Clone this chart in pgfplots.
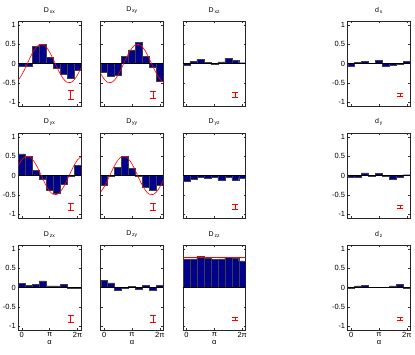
\documentclass[border=0pt]{standalone}
\usepackage{pgfplots}
\pgfplotsset{compat=1.18}
\usepackage{pgfplotstable}
\usepackage{fontspec}
\setmainfont{Liberation Sans}

\definecolor{navy}{rgb}{0,0,0.55}

% bar heights, one column per panel
\pgfplotstableread{
a      Dxx   Dxy   Dxz   dx    Dyx   Dyy   Dyz   dy    Dzx   Dzy   Dzz   dz
0      -0.08 -0.22 -0.04 -0.06 0.56  -0.25 -0.14 -0.05 0.11  0.18  0.74  -0.03
0.7854 -0.08 -0.34 0.06  0.03  0.50  -0.02 -0.09 -0.05 0.06  0.12  0.74  0.04
1.5708 0.44  -0.30 0.11  0.05  0.13  0.22  -0.04 0.07  0.08  -0.08 0.81  0.06
2.3562 0.50  0.18  0.03  0.01  -0.10 0.50  -0.07 -0.02 0.17  -0.01 0.76  0.00
3.1416 0.16  0.35  -0.03 0.09  -0.37 0.19  -0.04 0.06  0.04  0.03  0.73  0.00
3.9270 -0.13 0.54  0.04  -0.08 -0.46 -0.02 -0.11 -0.03 0.04  -0.04 0.74  0.00
4.7124 -0.28 0.18  0.13  -0.04 -0.23 -0.30 -0.04 -0.10 0.09  0.06  0.78  0.04
5.4978 -0.39 -0.09 0.09  -0.01 -0.02 -0.38 -0.11 -0.05 -0.03 -0.08 0.76  0.08
6.2832 -0.17 -0.47 0.02  0.06  0.26  -0.25 -0.07 0.02  -0.01 0.06  0.69  -0.01
}\bars

% model curves (red)
\pgfplotstableread{
a       cxx     cxy     cyx
-0.3927 -0.4266 -0.2609 0.2609
0       -0.2943 -0.4043 0.4043
0.3927  -0.1172 -0.4861 0.4861
0.7854  0.0779  -0.4939 0.4939
1.1781  0.2607  -0.4267 0.4267
1.5708  0.4043  -0.2943 0.2943
1.9635  0.4861  -0.1172 0.1172
2.3562  0.4939  0.0778  -0.0778
2.7489  0.4266  0.2609  -0.2609
3.1416  0.2943  0.4043  -0.4043
3.5343  0.1172  0.4861  -0.4861
3.9270  -0.0779 0.4939  -0.4939
4.3197  -0.2607 0.4267  -0.4267
4.7124  -0.4043 0.2943  -0.2943
5.1051  -0.4861 0.1172  -0.1172
5.4978  -0.4939 -0.0778 0.0778
5.8905  -0.4266 -0.2609 0.2609
6.2832  -0.2943 -0.4043 0.4043
6.6759  -0.1172 -0.4861 0.4861
}\curves

\pgfplotsset{
  panel/.style={
    scale only axis, width=62.7pt, height=85pt, anchor=north west,
    xmin=-0.3927, xmax=6.6759, ymin=-1.1, ymax=1.1,
    xtick={0,3.14159,6.28319}, xticklabels={0,π,2π}, minor x tick num=3,
    ytick={-1,-0.5,0,0.5,1}, yticklabels={},
    tick align=inside, major tick length=2pt, minor tick length=1.5pt,
    tick style={black!80, line width=0.4pt},
    axis line style={black!85, line width=0.7pt},
    ticklabel style={font=\fontsize{7.5}{8}\selectfont},
    title style={font=\fontsize{7}{8}\selectfont, yshift=-2pt},
    xlabel style={font=\fontsize{7.5}{8}\selectfont, yshift=4pt},
    yticklabel style={xshift=1pt},
    xticklabel style={yshift=1pt},
  },
  ylab/.style={yticklabels={-1,-0.5,0,0.5,1}},
  nox/.style={xticklabels={}},
  bars/.style={ybar, bar width=0.7854, fill=navy, draw=black!75, line width=0.35pt},
  errb/.style={red, only marks, mark=*, mark size=0pt,
    error bars/.cd, y dir=both, y explicit,
    error bar style={red, solid, line width=0.7pt},
    error mark=|, error mark options={red, solid, mark size=3pt, line width=0.7pt}},
}

% #1 left, #2 top, #3 title, #4 bar column, #5 error, #6 options, #7 extra plots
\newcommand\panel[7]{%
\begin{axis}[panel, at={(#1pt,-#2pt)}, title={#3}, #6]
\addplot[bars] table[x=a, y=#4] {\bars};
\addplot[black, line width=0.5pt] coordinates {(-0.3927,0) (6.6759,0)};
#7
\addplot[errb] coordinates {(5.5,-0.81) +- (0,#5)};
\end{axis}}

\begin{document}
\begin{tikzpicture}
\useasboundingbox (0,0) rectangle (415pt,-354pt);

\panel{18.3}{21}{D\textsubscript{\,xx}}{Dxx}{0.11}{ylab, nox}
  {\addplot[red, line width=0.6pt, smooth] table[x=a, y=cxx] {\curves};}
\panel{100.7}{21}{D\textsubscript{\,xy}}{Dxy}{0.09}{nox}
  {\addplot[red, line width=0.6pt, smooth] table[x=a, y=cxy] {\curves};}
\panel{183}{21}{D\textsubscript{\,xz}}{Dxz}{0.055}{nox}{}
\panel{347.7}{21}{d\textsubscript{\,x}}{dx}{0.05}{ylab, nox}{}

\panel{18.3}{133}{D\textsubscript{\,yx}}{Dyx}{0.095}{ylab, nox}
  {\addplot[red, line width=0.6pt, smooth] table[x=a, y=cyx] {\curves};}
\panel{100.7}{133}{D\textsubscript{\,yy}}{Dyy}{0.09}{nox}
  {\addplot[red, line width=0.6pt, smooth] table[x=a, y=cxx] {\curves};}
\panel{183}{133}{D\textsubscript{\,yz}}{Dyz}{0.06}{nox}{}
\panel{347.7}{133}{d\textsubscript{\,y}}{dy}{0.05}{ylab, nox}{}

\panel{18.3}{245}{D\textsubscript{\,zx}}{Dzx}{0.1}{ylab, xlabel={α}}{}
\panel{100.7}{245}{D\textsubscript{\,zy}}{Dzy}{0.085}{xlabel={α}}{}
\panel{183}{245}{D\textsubscript{\,zz}}{Dzz}{0.03}{xlabel={α}}
  {\addplot[red, line width=0.6pt] coordinates {(-0.3927,0.78) (6.6759,0.78)};}
\panel{347.7}{245}{d\textsubscript{\,z}}{dz}{0.04}{ylab, xlabel={α}}{}
\end{tikzpicture}
\end{document}
